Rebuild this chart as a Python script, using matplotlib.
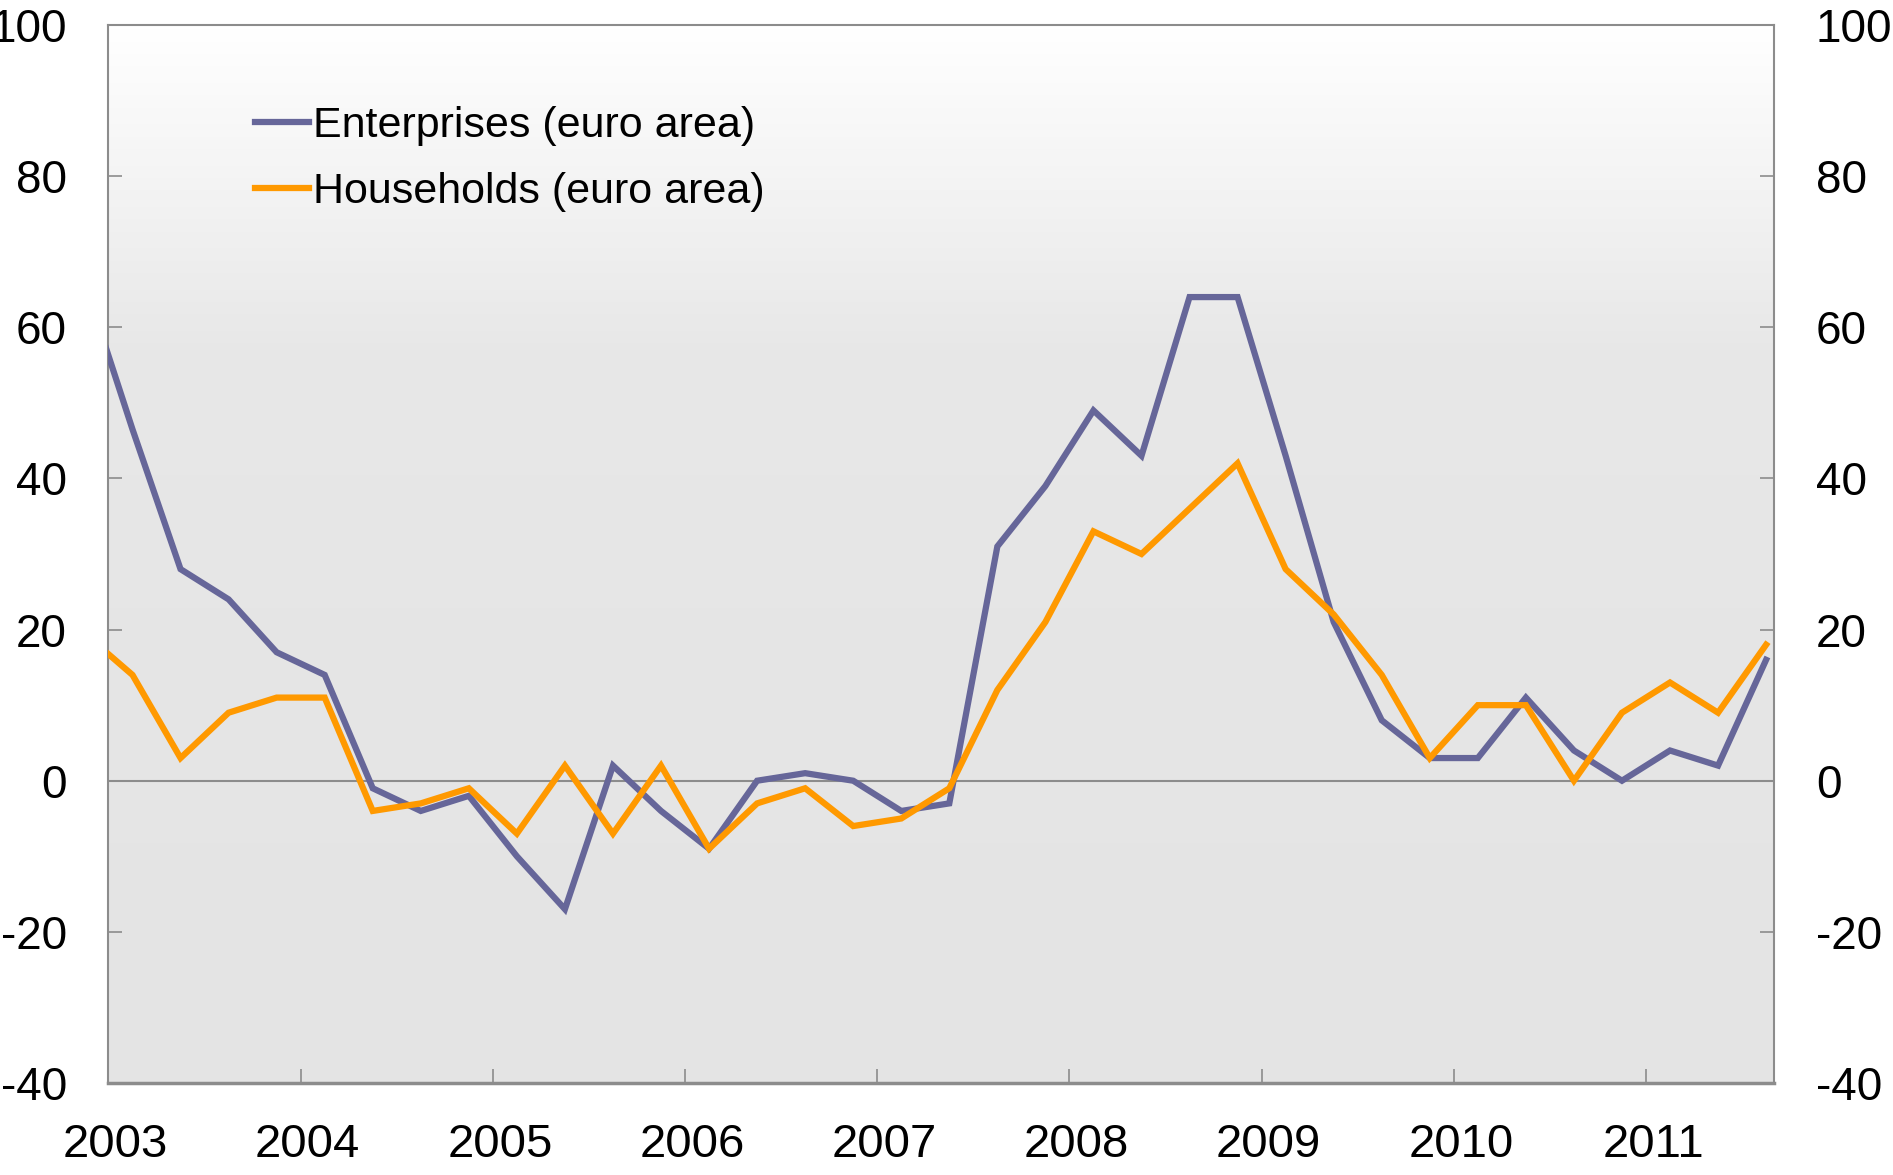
import numpy as np
import matplotlib
matplotlib.use("Agg")
import matplotlib.pyplot as plt
from matplotlib.colors import LinearSegmentedColormap
from matplotlib.transforms import ScaledTranslation

plt.rcParams['font.family'] = ['Liberation Sans', 'DejaVu Sans']

# quarterly survey values, first quarter 2002Q4 (partly outside the axis)
quarters = ["2002Q4",
            "2003Q1", "2003Q2", "2003Q3", "2003Q4",
            "2004Q1", "2004Q2", "2004Q3", "2004Q4",
            "2005Q1", "2005Q2", "2005Q3", "2005Q4",
            "2006Q1", "2006Q2", "2006Q3", "2006Q4",
            "2007Q1", "2007Q2", "2007Q3", "2007Q4",
            "2008Q1", "2008Q2", "2008Q3", "2008Q4",
            "2009Q1", "2009Q2", "2009Q3", "2009Q4",
            "2010Q1", "2010Q2", "2010Q3", "2010Q4",
            "2011Q1", "2011Q2", "2011Q3"]
enterprises = [66, 46.5, 28, 24, 17, 14, -1, -4, -2, -10, -17, 2, -4, -9, 0, 1, 0,
               -4, -3, 31, 39, 49, 43, 64, 64, 43, 21, 8, 3, 3, 11, 4, 0, 4, 2, 16]
households = [19.5, 14, 3, 9, 11, 11, -4, -3, -1, -7, 2, -7, 2, -9, -3, -1, -6,
              -5, -1, 12, 21, 33, 30, 36, 42, 28, 22, 14, 3, 10, 10, 0, 9, 13, 9, 18]
years = list(range(2003, 2012))
yticks = [-40, -20, 0, 20, 40, 60, 80, 100]

# place each quarter at its middle
x = [int(q[:4]) + (int(q[5]) - 1) * 0.25 + 0.125 for q in quarters]

fig = plt.figure(figsize=(18.93, 11.75), dpi=100)
ax = fig.add_axes([0.0573, 0.0783, 0.8799, 0.9004])

xmin, xmax = 2003, 2011 + 2 / 3
ax.set_xlim(xmin, xmax)
ax.set_ylim(-40, 100)

# background: white at top fading into light grey
cmap = LinearSegmentedColormap.from_list(
    "bg", [(0, "#e4e4e4"), (0.45, "#e6e6e6"), (0.70, "#e8e8e8"), (1, "#ffffff")])
grad = np.linspace(0, 1, 256).reshape(-1, 1)
ax.imshow(grad, aspect="auto", cmap=cmap, origin="lower",
          extent=[xmin, xmax, -40, 100], zorder=0)

ax.axhline(0, color="#8c8c8c", lw=1.5, zorder=1)

ax.plot(x, enterprises, color="#666699", lw=4.5, label="Enterprises (euro area)",
        zorder=3, solid_joinstyle="miter")
ax.plot(x, households, color="#ff9900", lw=4.5, label="Households (euro area)",
        zorder=4, solid_joinstyle="miter")

for s in ax.spines.values():
    s.set_color("#8c8c8c")
    s.set_linewidth(1.5)
ax.spines["bottom"].set_linewidth(2.5)

ax.set_yticks(yticks)
ax.set_yticklabels([str(v) for v in yticks])
ax.tick_params(axis="y", direction="in", length=10, width=1.2, color="#8c8c8c",
               left=True, right=True, labelleft=True, labelright=True,
               labelsize=33, pad=30)

ax.set_xticks(years)
ax.set_xticklabels([str(y) for y in years])
ax.tick_params(axis="x", direction="in", length=10, width=1.2, color="#8c8c8c",
               labelsize=34, pad=29)
shift = ScaledTranslation(0.07, 0, fig.dpi_scale_trans)
for lab in ax.get_xticklabels():
    lab.set_transform(lab.get_transform() + shift)

leg = ax.legend(loc="upper left", bbox_to_anchor=(0.088, 0.923), frameon=False,
                fontsize=31, handlelength=1.25, handletextpad=0.1,
                labelspacing=0.6, borderpad=0, borderaxespad=0)
for h in leg.get_lines():
    h.set_linewidth(4.5)

fig.savefig("out.png", dpi=100)
